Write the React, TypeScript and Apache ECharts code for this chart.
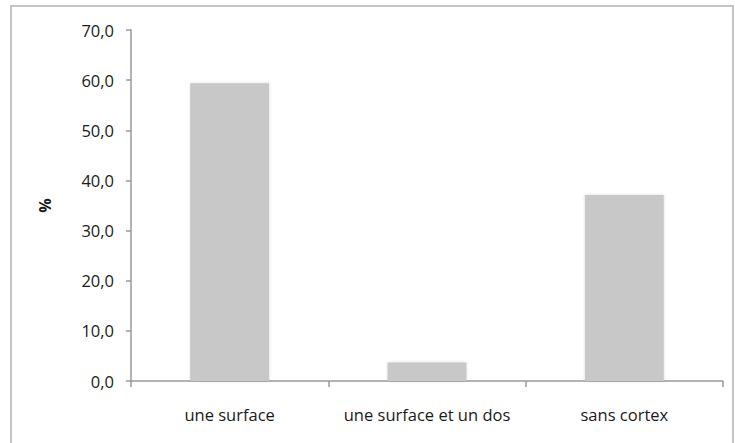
import React, { useEffect, useRef } from "react";
import * as echarts from "echarts";

const categories = ["une surface", "une surface et un dos", "sans cortex"];
const values = [59.4, 3.7, 37.1];
const yMin = 0;
const yMax = 70;
const yStep = 10;
const yTitle = "%";

export default function App() {
  const ref = useRef<HTMLDivElement>(null);
  useEffect(() => {
    if (!ref.current) return;
    const chart = echarts.init(ref.current, undefined, { renderer: "svg" });
    const font = "'Open Sans', sans-serif";
    chart.setOption({
      animation: false,
      backgroundColor: "#ffffff",
      graphic: [
        {
          type: "rect",
          shape: { x: 11, y: 6, width: 722, height: 450 },
          style: { fill: "none", stroke: "#c4c4c4", lineWidth: 2 },
          silent: true,
        },
      ],
      grid: { left: 131, top: 30, right: 12, bottom: 62, containLabel: false },
      xAxis: {
        type: "category",
        data: categories,
        axisLine: { lineStyle: { color: "#9a9a9a", width: 1.5 } },
        axisTick: { show: true, length: 6, lineStyle: { color: "#9a9a9a", width: 1.5 } },
        axisLabel: {
          color: "#1a1a1a",
          fontFamily: font,
          fontSize: 16.5,
          margin: 25,
          interval: 0,
          hideOverlap: false,
        },
      },
      yAxis: {
        type: "value",
        min: yMin,
        max: yMax,
        interval: yStep,
        name: yTitle,
        nameLocation: "middle",
        nameGap: 78,
        nameRotate: 90,
        nameTextStyle: { color: "#1a1a1a", fontFamily: font, fontSize: 16, fontWeight: "bold" },
        splitLine: { show: false },
        axisLine: { show: true, lineStyle: { color: "#9a9a9a", width: 1.5 } },
        axisTick: { show: true, length: 5, lineStyle: { color: "#9a9a9a", width: 1.5 } },
        axisLabel: {
          color: "#1a1a1a",
          fontFamily: font,
          fontSize: 16.5,
          margin: 17,
          formatter: (v: number) => v.toFixed(1).replace(".", ","),
        },
      },
      series: [
        {
          type: "bar",
          data: values,
          barWidth: "40%",
          itemStyle: {
            color: "#c8c8c8",
            shadowBlur: 3,
            shadowColor: "rgba(0,0,0,0.15)",
          },
        },
      ],
    });
    return () => chart.dispose();
  }, []);
  return <div ref={ref} style={{ width: 735, height: 443, position: "absolute", left: 0, top: 0 }} />;
}
